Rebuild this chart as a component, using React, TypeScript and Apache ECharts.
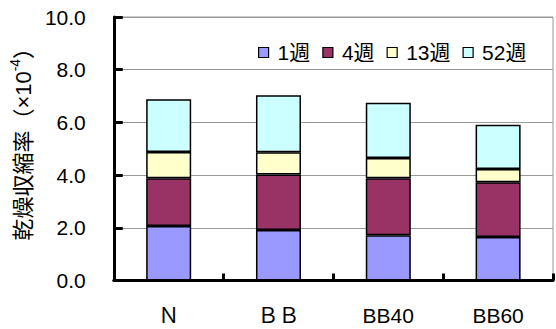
import React, { useEffect, useRef } from "react";
import * as echarts from "echarts";

const categories = ["Ｎ", "ＢＢ", "BB40", "BB60"];
const seriesNames = ["1週", "4週", "13週", "52週"];
const week1 = [2.07, 1.92, 1.72, 1.65];
const week4 = [1.81, 2.1, 2.16, 2.08];
const week13 = [1.0, 0.85, 0.77, 0.5];
const week52 = [2.0, 2.16, 2.1, 1.68];
const colors = ["#9999FF", "#993366", "#FFFFCC", "#CCFFFF"];

const FONT = "'Liberation Sans', Arial, 'Noto Sans CJK JP', sans-serif";

export default function App() {
  const ref = useRef<HTMLDivElement>(null);
  useEffect(() => {
    if (!ref.current) return;
    const chart = echarts.init(ref.current, undefined, { renderer: "svg" });
    const data = [week1, week4, week13, week52];
    chart.setOption({
      animation: false,
      backgroundColor: "#ffffff",
      textStyle: { fontFamily: FONT },
      grid: {
        left: 108,
        right: 3,
        top: 17,
        bottom: 48.5,
        show: true,
        borderColor: "#999999",
        borderWidth: 1,
      },
      legend: {
        left: 253,
        top: 37,
        itemWidth: 10,
        itemHeight: 10,
        itemGap: 12,
        icon: "rect",
        textStyle: { fontSize: 21, color: "#000", fontFamily: FONT, padding: [0, 6, 0, 4] },
        data: seriesNames.map((n, i) => ({
          name: n,
          itemStyle: { color: colors[i], borderColor: "#000", borderWidth: 1.2 },
        })),
      },
      xAxis: {
        type: "category",
        data: categories,
        boundaryGap: true,
        axisLine: { lineStyle: { color: "#000", width: 3 } },
        axisTick: { show: true, inside: true, length: 7, interval: 0, lineStyle: { color: "#000", width: 3 } },
        axisLabel: { color: "#000", fontSize: 21, margin: 24, fontFamily: FONT },
        splitLine: { show: false },
      },
      yAxis: {
        type: "value",
        min: 0,
        max: 10,
        interval: 2,
        axisLine: { show: true, lineStyle: { color: "#000", width: 3 } },
        axisTick: { show: true, inside: true, length: 9, lineStyle: { color: "#000", width: 3 } },
        axisLabel: {
          color: "#000",
          fontSize: 21,
          margin: 28,
          fontFamily: FONT,
          formatter: (v: number) => v.toFixed(1),
        },
        splitLine: { show: true, lineStyle: { color: "#999999", width: 1 } },
        name: "{a|乾燥収縮率（×10}{s|-4}{a|）}",
        nameLocation: "middle",
        nameGap: 70,
        nameRotate: 90,
        nameTextStyle: {
          padding: [0, 0, 0, 20],
          rich: {
            a: { fontSize: 22, color: "#000", fontFamily: FONT, verticalAlign: "bottom", lineHeight: 26 },
            s: { fontSize: 14, color: "#000", fontFamily: FONT, verticalAlign: "top", lineHeight: 26 },
          },
        },
      },
      series: seriesNames.map((n, i) => ({
        name: n,
        type: "bar",
        stack: "total",
        barWidth: "41%",
        data: data[i],
        itemStyle: { color: colors[i], borderColor: "#000", borderWidth: 1.5 },
      })),
    });
    return () => chart.dispose();
  }, []);
  return (
    <div
      ref={ref}
      style={{ position: "fixed", left: 0, top: 0, width: 556, height: 329 }}
    />
  );
}
